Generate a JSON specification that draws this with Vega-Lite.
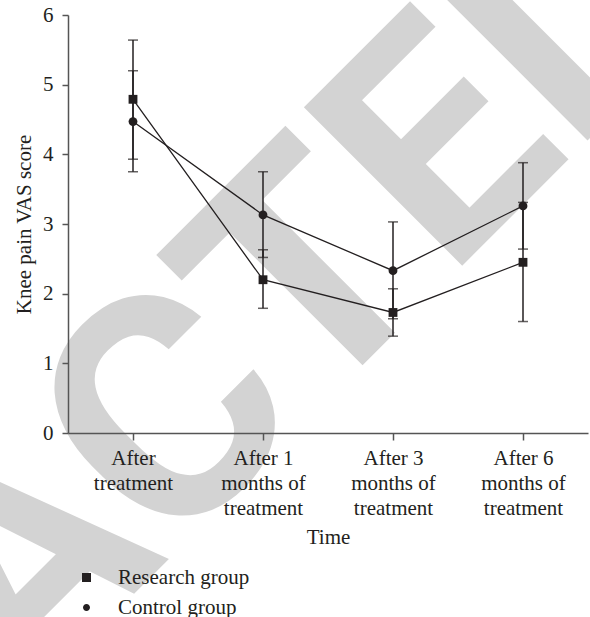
{
  "$schema": "https://vega.github.io/schema/vega-lite/v6.json",
  "width": 520,
  "height": 418,
  "autosize": {"type": "none"},
  "padding": {"left": 68, "top": 15, "right": 2, "bottom": 184},
  "background": "white",
  "config": {"view": {"stroke": null}, "font": "Liberation Serif"},
  "data": {
    "values": [
      {"time": "After|treatment", "group": "Research group", "mean": 4.79, "lo": 3.93, "hi": 5.64},
      {"time": "After 1|months of|treatment", "group": "Research group", "mean": 2.2, "lo": 1.79, "hi": 2.63},
      {"time": "After 3|months of|treatment", "group": "Research group", "mean": 1.73, "lo": 1.39, "hi": 2.07},
      {"time": "After 6|months of|treatment", "group": "Research group", "mean": 2.45, "lo": 1.6, "hi": 3.31},
      {"time": "After|treatment", "group": "Control group", "mean": 4.47, "lo": 3.75, "hi": 5.2},
      {"time": "After 1|months of|treatment", "group": "Control group", "mean": 3.13, "lo": 2.52, "hi": 3.75},
      {"time": "After 3|months of|treatment", "group": "Control group", "mean": 2.33, "lo": 1.64, "hi": 3.03},
      {"time": "After 6|months of|treatment", "group": "Control group", "mean": 3.26, "lo": 2.64, "hi": 3.88}
    ]
  },
  "layer": [
    {
      "data": {"values": [{"label": "RETRACTED"}]},
      "mark": {"type": "text", "font": "Roboto", "fontWeight": "bold", "fontSize": 315, "color": "#d3d3d3", "align": "right", "baseline": "alphabetic", "angle": -45},
      "encoding": {
        "text": {"field": "label"},
        "x": {"datum": 650.2, "type": "quantitative", "scale": {"domain": [0, 520], "nice": false, "zero": false}, "axis": null},
        "y": {"datum": 6.076, "type": "quantitative", "scale": {"domain": [0, 6], "nice": false}, "axis": null}
      }
    },
    {
      "encoding": {
        "x": {
          "field": "time", "type": "nominal",
          "sort": ["After|treatment", "After 1|months of|treatment", "After 3|months of|treatment", "After 6|months of|treatment"],
          "scale": {"type": "point", "padding": 0.5},
          "axis": {
            "title": "Time", "labelExpr": "split(datum.label, '|')", "labelAngle": 0, "zindex": 1,
            "labelFont": "Liberation Serif", "labelFontSize": 21, "labelColor": "#231f20", "labelLineHeight": 25, "labelPadding": 7,
            "titleFont": "Liberation Serif", "titleFontSize": 21, "titleFontWeight": "normal", "titleColor": "#231f20", "titlePadding": 8,
            "domainColor": "#555555", "domainWidth": 1.5, "tickColor": "#555555", "tickWidth": 1.5, "tickSize": 7, "grid": false
          }
        }
      },
      "layer": [
        {
          "mark": {"type": "rule", "color": "#231f20", "strokeWidth": 1.5},
          "encoding": {
            "y": {"field": "lo", "type": "quantitative", "scale": {"domain": [0, 6], "nice": false},
              "axis": {
                "title": "Knee pain VAS score", "values": [0, 1, 2, 3, 4, 5, 6], "format": "d", "zindex": 1,
                "labelFont": "Liberation Serif", "labelFontSize": 21, "labelColor": "#231f20", "labelPadding": 9,
                "titleFont": "Liberation Serif", "titleFontSize": 21, "titleFontWeight": "normal", "titleColor": "#231f20", "titlePadding": 8,
                "domainColor": "#555555", "domainWidth": 1.5, "tickColor": "#555555", "tickWidth": 1.5, "tickSize": 6, "grid": false
              }
            },
            "y2": {"field": "hi"}
          }
        },
        {
          "mark": {"type": "tick", "color": "#231f20", "thickness": 1.5, "size": 10},
          "encoding": {"y": {"field": "lo", "type": "quantitative"}}
        },
        {
          "mark": {"type": "tick", "color": "#231f20", "thickness": 1.5, "size": 10},
          "encoding": {"y": {"field": "hi", "type": "quantitative"}}
        },
        {
          "mark": {"type": "line", "color": "#231f20", "strokeWidth": 1.3},
          "encoding": {
            "y": {"field": "mean", "type": "quantitative"},
            "detail": {"field": "group"}
          }
        },
        {
          "mark": {"type": "point", "filled": true, "opacity": 1, "size": 78, "color": "#231f20"},
          "encoding": {
            "y": {"field": "mean", "type": "quantitative"},
            "shape": {
              "field": "group", "type": "nominal",
              "scale": {"domain": ["Research group", "Control group"], "range": ["square", "circle"]},
              "legend": null
            }
          }
        },
        {
          "mark": {"type": "point", "filled": false, "fill": "#231f20", "stroke": "#231f20", "strokeWidth": 1.3, "opacity": 0, "size": 78},
          "encoding": {
            "y": {"field": "mean", "type": "quantitative"},
            "shape": {
              "field": "group", "type": "nominal",
              "scale": {
                "domain": ["Research group", "Control group"],
                "range": ["M-3.7,0H3.7M-0.9,-0.9H0.9V0.9H-0.9Z", "M-3.7,0H3.7M-0.7,0A0.7,0.7,0,1,0,0.7,0A0.7,0.7,0,1,0,-0.7,0Z"]
              },
              "legend": {
                "orient": "none", "legendX": 8, "legendY": 552, "title": null, "padding": 0,
                "symbolSize": 100, "symbolOpacity": 1, "symbolFillColor": "#231f20", "symbolStrokeColor": "#231f20", "symbolStrokeWidth": 1.3,
                "labelFont": "Liberation Serif", "labelFontSize": 21, "labelColor": "#231f20",
                "labelOffset": 21, "rowPadding": 8, "zindex": 1,
                "encode": {
                  "symbols": {
                    "fill": {"value": "#231f20"},
                    "stroke": {"value": "#231f20"},
                    "strokeWidth": {"value": 1.3},
                    "opacity": {"value": 1}
                  }
                }
              }
            }
          }
        }
      ],
      "resolve": {"scale": {"shape": "independent"}, "legend": {"shape": "independent"}}
    }
  ],
  "resolve": {"scale": {"x": "independent", "y": "independent"}}
}
